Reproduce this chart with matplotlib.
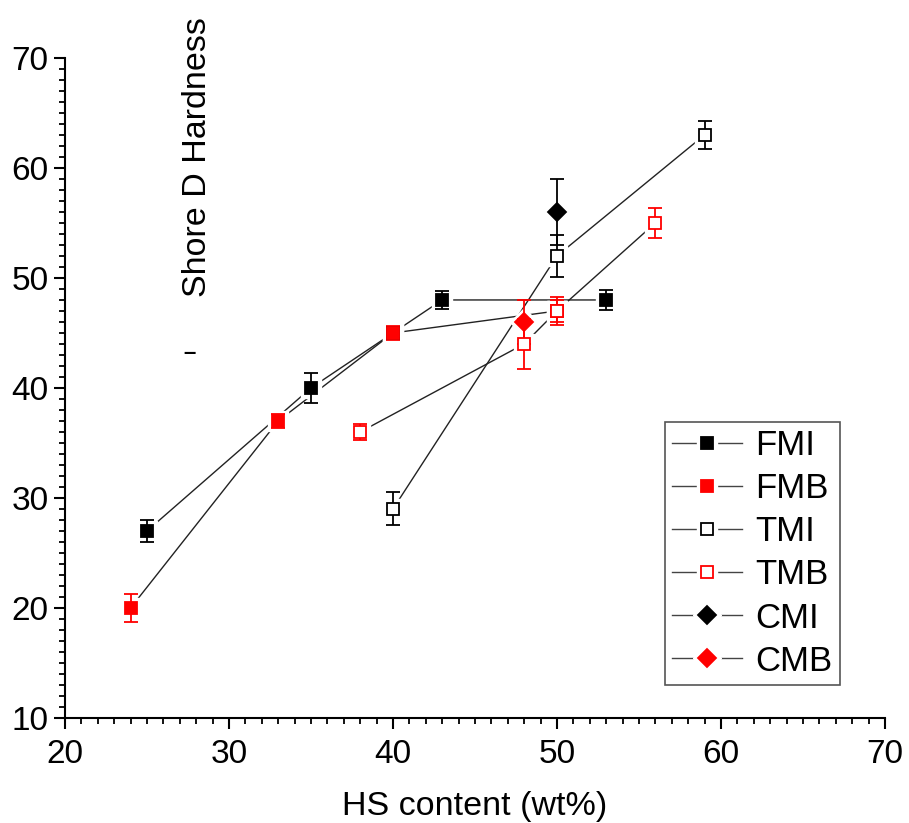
import matplotlib
matplotlib.use("Agg")
import matplotlib.pyplot as plt
from matplotlib.lines import Line2D
from matplotlib.ticker import MultipleLocator

plt.rcParams['font.family'] = ['Liberation Sans', 'DejaVu Sans']

# data
fmi_x = [25, 35, 40, 43, 53]
fmi_y = [27, 40, 45, 48, 48]
fmi_e = [1.0, 1.4, 0.5, 0.8, 0.9]

fmb_x = [24, 33, 40, 50]
fmb_y = [20, 37, 45, 47]
fmb_e = [1.3, 0.6, 0.6, 1.0]

tmi_x = [40, 50, 59]
tmi_y = [29, 52, 63]
tmi_e = [1.5, 1.9, 1.3]

tmb_x = [38, 48, 50, 56]
tmb_y = [36, 44, 47, 55]
tmb_e = [0.7, 2.3, 1.3, 1.4]

cmi_x = [50]
cmi_y = [56]
cmi_e = [3.0]

cmb_x = [48]
cmb_y = [46]
cmb_e = [2.0]

series = [
    ("FMI", fmi_x, fmi_y, fmi_e, 's', 'black', 'black'),
    ("FMB", fmb_x, fmb_y, fmb_e, 's', 'red', 'red'),
    ("TMI", tmi_x, tmi_y, tmi_e, 's', 'white', 'black'),
    ("TMB", tmb_x, tmb_y, tmb_e, 's', 'white', 'red'),
    ("CMI", cmi_x, cmi_y, cmi_e, 'D', 'black', 'black'),
    ("CMB", cmb_x, cmb_y, cmb_e, 'D', 'red', 'red'),
]

fig = plt.figure(figsize=(9.09, 8.23), dpi=100)
ax = fig.add_axes([0.0715, 0.1276, 0.902, 0.802])

ms = 9
handles = []
for name, x, y, e, mk, fc, ec in series:
    ax.plot(x, y, '-', color='#222222', lw=1.0, zorder=1)
    # white halo so the line stops short of the marker
    ax.plot(x, y, ls='none', marker=mk, ms=ms + 5, mfc='white', mec='white', zorder=2)
    ax.errorbar(x, y, yerr=e, fmt='none', ecolor=ec, elinewidth=1.3,
                capsize=5, capthick=1.3, zorder=3)
    ax.plot(x, y, ls='none', marker=mk, ms=ms, mfc=fc, mec=ec, mew=1.3, zorder=4)
    h = (Line2D([], [], color='#444444', lw=1.0),
         Line2D([], [], ls='none', marker=mk, ms=ms + 5, mfc='white', mec='white'),
         Line2D([], [], ls='none', marker=mk, ms=ms, mfc=fc, mec=ec, mew=1.3))
    handles.append(h)

ax.set_xlim(20, 70)
ax.set_ylim(10, 70)
ax.spines['top'].set_visible(False)
ax.spines['right'].set_visible(False)
ax.spines['left'].set_linewidth(1.5)
ax.spines['bottom'].set_linewidth(1.5)
ax.xaxis.set_major_locator(MultipleLocator(10))
ax.xaxis.set_minor_locator(MultipleLocator(1))
ax.yaxis.set_major_locator(MultipleLocator(10))
ax.yaxis.set_minor_locator(MultipleLocator(1))
ax.tick_params(which='major', direction='out', length=8, width=1.5, labelsize=24)
ax.tick_params(which='minor', direction='out', length=4, width=1.3)
ax.tick_params(axis='x', pad=7)
ax.tick_params(axis='y', pad=4)

ax.set_xlabel("HS content (wt%)", fontsize=24.5, labelpad=15)

fig.text(198 / 909, 1 - 157 / 823, "Shore D Hardness", rotation=90,
         fontsize=24.5, ha='center', va='center')
fig.text(190 / 909, 1 - 353 / 823, "\u2013", fontsize=16, ha='center', va='center',
         fontweight='bold')

leg = ax.legend(handles, [s[0] for s in series], loc='upper left',
                bbox_to_anchor=(0.732, 0.448), borderaxespad=0, fontsize=25,
                handlelength=2.0, handletextpad=0.4, labelspacing=0.29,
                borderpad=0.2, fancybox=False, framealpha=1)
leg.get_frame().set_edgecolor('#555555')
leg.get_frame().set_linewidth(1.2)

fig.savefig("out.png", dpi=100)
